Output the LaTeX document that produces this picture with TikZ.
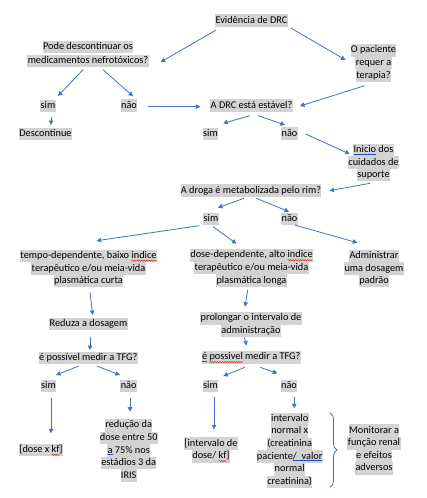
\documentclass[tikz,border=0pt]{standalone}
\usepackage{fontspec}
\setmainfont{Carlito}
\usetikzlibrary{arrows.meta,calc,decorations.pathreplacing,decorations.pathmorphing}
\definecolor{hlgray}{HTML}{D3D3D3}
\definecolor{arrblue}{HTML}{4472C4}
\definecolor{spellblue}{HTML}{1F4FBF}
\definecolor{spellred}{HTML}{E02020}
\newlength\marklen
\newcommand\hl[1]{{\setlength\fboxsep{0pt}\colorbox{hlgray}{\strut\kern0.4pt#1\kern0.4pt}}}
\newcommand\blueul[1]{\setbox0\hbox{#1}\rlap{\textcolor{spellblue}{\rule[-1.9pt]{\wd0}{0.8pt}}}\box0\relax}
\newcommand\redwave[1]{\setbox0\hbox{#1}\setlength\marklen{\wd0}\rlap{\tikz[baseline=0pt,x=1pt,y=1pt]{\useasboundingbox (0,0); \draw[spellred,line width=0.45pt,decorate,decoration={snake,amplitude=0.7pt,segment length=2.4pt}] (0,-2.3) -- (\marklen,-2.3);}}\box0\relax}
\begin{document}
\begin{tikzpicture}[x=1pt,y=-1pt,
  lbl/.style={inner sep=0pt,outer sep=0pt,align=center,font=\fontsize{10.3}{12.6}\selectfont},
  arr/.style={draw=arrblue,line width=0.8pt,-{Triangle[length=4.5pt,width=4.5pt]}}]
\fill[white] (0,0) rectangle (426,498);
\useasboundingbox (0,0) rectangle (426,498);
% nodes
\node[lbl] (evid) at (251.5,20.7) {\hl{Evidência de DRC}};
\node[lbl] (pode) at (88,54) {\hl{Pode descontinuar os}\\[1.2pt]\hl{medicamentos nefrotóxicos?}};
\node[lbl] (pac) at (373.5,63) {\hl{O paciente}\\\hl{requer a}\\\hl{terapia?}};
\node[lbl] (sim1) at (48,106) {\hl{sim}};
\node[lbl] (nao1) at (129,105.5) {\hl{não}};
\node[lbl] (desc) at (45.5,134) {\hl{Descontinue}};
\node[lbl] (drc) at (251.5,105.7) {\hl{A DRC está estável?}};
\node[lbl] (sim2) at (210.5,134) {\hl{sim}};
\node[lbl] (nao2) at (289.5,133.5) {\hl{não}};
\node[lbl] (ini) at (373.5,162.5) {\hl{\blueul{Inicio} dos}\\\hl{cuidados de}\\\hl{suporte}};
\node[lbl] (droga) at (251,190.7) {\hl{A droga é metabolizada pelo rim?}};
\node[lbl] (sim3) at (211,219) {\hl{sim}};
\node[lbl] (nao3) at (289.5,219) {\hl{não}};
\node[lbl] (tempo) at (88.5,268.5) {\hl{tempo-dependente, baixo \redwave{indice}}\\\hl{terapêutico e/ou meia-vida}\\\hl{plasmática curta}};
\node[lbl] (dose) at (251.5,268) {\hl{dose-dependente, alto \redwave{indice}}\\\hl{terapêutico e/ou meia-vida}\\\hl{plasmática longa}};
\node[lbl] (admin) at (374,268.5) {\hl{Administrar}\\\hl{uma dosagem}\\\hl{padrão}};
\node[lbl] (reduza) at (88.5,324) {\hl{Reduza a dosagem}};
\node[lbl] (prol) at (251,324.5) {\hl{prolongar o intervalo de}\\\hl{administração}};
\node[lbl] (tfg1) at (88.3,358) {\hl{é possível medir a TFG?}};
\node[lbl] (tfg2) at (251.3,357.3) {\hl{\blueul{é} \redwave{possivel} medir a TFG?}};
\node[lbl] (sim4) at (48.5,386) {\hl{sim}};
\node[lbl] (nao4) at (128.7,386) {\hl{não}};
\node[lbl] (sim5) at (210.5,386) {\hl{sim}};
\node[lbl] (nao5) at (289,386) {\hl{não}};
\node[lbl] (dosekf) at (41,450) {\hl{[dose x \redwave{kf}]}};
\node[lbl] (red) at (128.7,450.5) {\hl{redução da}\\\hl{dose entre 50}\\\hl{\blueul{a} 75\% nos}\\\hl{estádios 3 da}\\\hl{IRIS}};
\node[lbl] (intkf) at (211,450) {\hl{[intervalo de}\\\hl{dose/ \redwave{kf}]}};
\node[lbl] (intn) at (289.7,450.3) {\hl{intervalo}\\\hl{normal x}\\\hl{(creatinina}\\\hl{paciente\blueul{/\ \ valor}}\\\hl{normal}\\\hl{creatinina)}};
\node[lbl] (mon) at (374,449.5) {\hl{Monitorar a}\\\hl{função renal}\\\hl{e efeitos}\\\hl{adversos}};
% brace
\coordinate (bt) at (330,412.7);
\coordinate (bb) at (330,487.3);
\draw[arrblue,line width=0.8pt,decorate,decoration={brace,amplitude=7pt}] (bt) -- (bb);
% arrows
\draw[arr] ($(evid.south west)+(1,3)$) -- ($(pode.east)+(12,8)$);
\draw[arr] ($(evid.south east)+(3,1)$) -- ($(pac.west)+(-5,-3)$);
\draw[arr] ($(pode.south)+(-5,2.5)$) -- ($(sim1.north)+(10,-3.7)$);
\draw[arr] ($(pode.south)+(15,2.5)$) -- ($(nao1.north)+(4,-3)$);
\draw[arr] ($(sim1.south)+(3,4.7)$) -- ($(desc.north)+(5.5,-2.7)$);
\draw[arr] ($(nao1.east)+(10.7,1.2)$) -- ($(drc.west)+(-10,1)$);
\draw[arr] ($(pac.south)+(-8.8,3.8)$) -- ($(drc.east)+(7.3,0.3)$);
\draw[arr] ($(drc.south)+(-1.5,3.7)$) -- ($(sim2.north)+(12.8,-4.4)$);
\draw[arr] ($(drc.south)+(6.8,3.7)$) -- ($(nao2.north)+(-4.5,-2.2)$);
\draw[arr] ($(nao2.east)+(7.7,0.5)$) -- ($(ini.west)+(1.7,-8.5)$);
\draw[arr] ($(ini.south)+(-3.5,1.9)$) -- ($(droga.east)+(8,0)$);
\draw[arr] ($(droga.south)+(-7,1.3)$) -- ($(sim3.north)+(7,-5)$);
\draw[arr] ($(droga.south)+(5.3,1.3)$) -- ($(nao3.north)+(-0.5,-1)$);
\draw[arr] ($(sim3.south)+(-11.7,0.4)$) -- ($(tempo.north)+(8.2,-8.9)$);
\draw[arr] ($(sim3.south)+(2,1.4)$) -- ($(dose.north)+(-15,-5.4)$);
\draw[arr] ($(nao3.south)+(5.2,-0.3)$) -- ($(admin.north)+(-16.7,-6.9)$);
\draw[arr] ($(tempo.south)+(1.5,4.9)$) -- ($(reduza.north)+(4.2,-2.7)$);
\draw[arr] ($(dose.south)+(-3.8,3.1)$) -- ($(prol.north)+(-6,-5.2)$);
\draw[arr] ($(reduza.south)+(1.5,6.2)$) -- ($(tfg1.north)+(1.7,-1.7)$);
\draw[arr] ($(prol.south)+(-6.7,0.4)$) -- ($(tfg2.north)+(-4.6,-5.5)$);
\draw[arr] ($(tfg1.south)+(-9.3,1.7)$) -- ($(sim4.north)+(7.5,-4.7)$);
\draw[arr] ($(tfg1.south)+(8.4,1.7)$) -- ($(nao4.north)+(-8.7,-4.7)$);
\draw[arr] ($(sim4.south)+(2.5,5.4)$) -- ($(dosekf.north)+(10,-10.4)$);
\draw[arr] ($(nao4.south)+(1.3,5.4)$) -- ($(red.north)+(1.3,-7.3)$);
\draw[arr] ($(tfg2.south)+(-6.3,3.7)$) -- ($(sim5.north)+(12.8,-3.7)$);
\draw[arr] ($(tfg2.south)+(8.7,3.7)$) -- ($(nao5.north)+(-11.7,-6.4)$);
\draw[arr] ($(sim5.south)+(3.5,5)$) -- ($(intkf.north)+(3,-8.1)$);
\draw[arr] ($(nao5.south)+(5.3,5)$) -- ($(intn.north)+(4.6,-4.2)$);
\end{tikzpicture}
\end{document}
